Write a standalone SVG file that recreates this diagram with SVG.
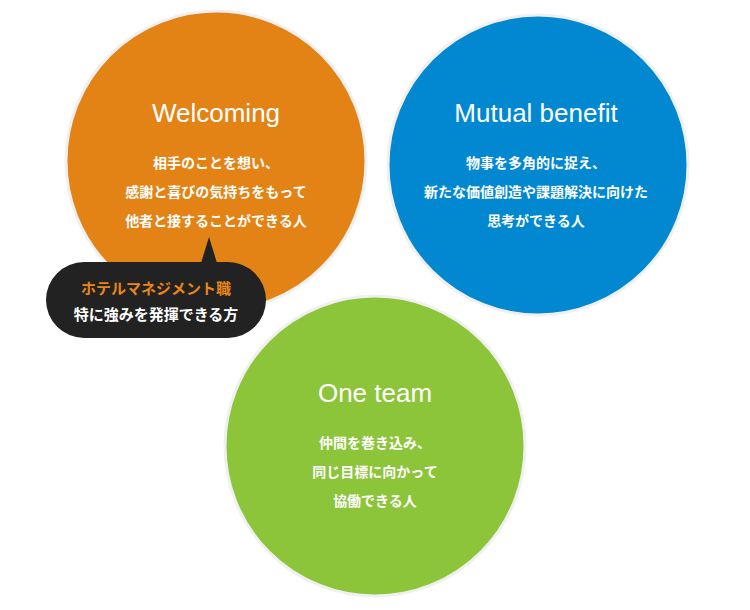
<svg xmlns="http://www.w3.org/2000/svg" width="750" height="610" viewBox="0 0 750 610">
<style>
.c{stroke:#f0f0f0;stroke-width:3}
.t{font-family:"Liberation Sans","Noto Sans CJK JP",sans-serif;fill:#fff;text-anchor:middle}
.h{font-size:26px}
.b{font-size:14px;font-weight:bold}
.s{font-size:15px;font-weight:bold}
</style>
<rect width="750" height="610" fill="#fff"/>
<g id="welcoming">
<circle class="c" cx="216" cy="161" r="150" fill="#e38315"/>
<text class="t h" x="216" y="122">Welcoming</text>
<text class="t b" x="216" y="168">相手のことを想い、</text>
<text class="t b" x="216" y="197">感謝と喜びの気持ちをもって</text>
<text class="t b" x="216" y="226">他者と接することができる人</text>
</g>
<g id="mutual">
<circle class="c" cx="538" cy="165" r="150" fill="#0288d1"/>
<text class="t h" x="536" y="122">Mutual benefit</text>
<text class="t b" x="536" y="168">物事を多角的に捉え、</text>
<text class="t b" x="536" y="197">新たな価値創造や課題解決に向けた</text>
<text class="t b" x="536" y="226">思考ができる人</text>
</g>
<g id="oneteam">
<circle class="c" cx="375" cy="446" r="150" fill="#8cc43a"/>
<text class="t h" x="375" y="402">One team</text>
<text class="t b" x="375" y="448">仲間を巻き込み、</text>
<text class="t b" x="375" y="477">同じ目標に向かって</text>
<text class="t b" x="375" y="506">協働できる人</text>
</g>
<g id="bubble">
<rect x="46" y="262" width="220" height="76" rx="38" fill="#222"/>
<polygon points="201,263 209,237 217,263" fill="#222"/>
<text class="t s" x="156" y="294" style="fill:#e8861a">ホテルマネジメント職</text>
<text class="t s" x="156" y="320">特に強みを発揮できる方</text>
</g>
<g id="connectors"/>
</svg>
